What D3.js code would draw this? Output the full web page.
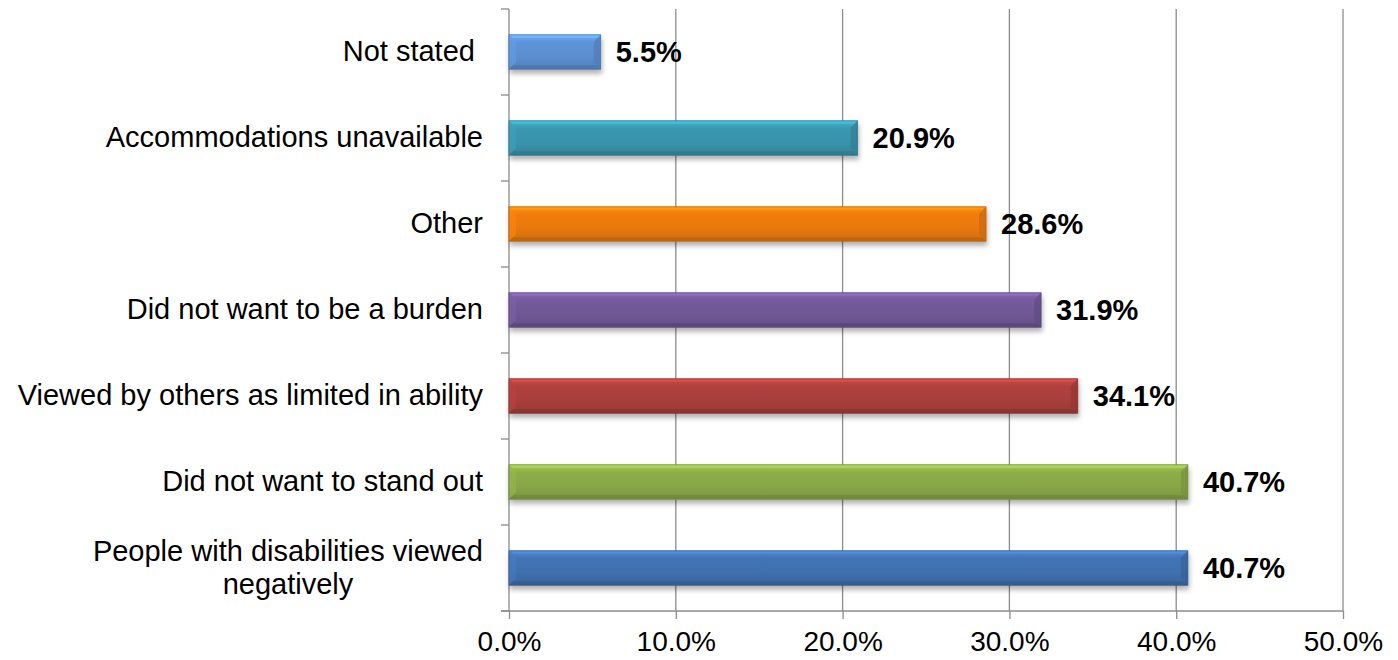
<!DOCTYPE html>
<html>
<head>
<meta charset="utf-8">
<script src="https://cdn.jsdelivr.net/npm/d3@7"></script>
<style>
  html, body { margin: 0; padding: 0; background: #fff; }
  svg { display: block; font-family: Arial, "Liberation Sans", sans-serif; }
</style>
</head>
<body>
<svg id="chart" width="1398" height="660"></svg>
<script>
// Reasons for not requesting accommodations (share of respondents)
const categories = [
  "Not stated",
  "Accommodations unavailable",
  "Other",
  "Did not want to be a burden",
  "Viewed by others as limited in ability",
  "Did not want to stand out",
  "People with disabilities viewed negatively"
];
const values = [5.5, 20.9, 28.6, 31.9, 34.1, 40.7, 40.7];
const valueLabels = ["5.5%", "20.9%", "28.6%", "31.9%", "34.1%", "40.7%", "40.7%"];
const barColors = ["#5A8ED0", "#3892AA", "#E8780E", "#6E5795", "#A83E3B", "#87A646", "#3F6FAD"];
const tickValues = [0, 10, 20, 30, 40, 50];
const tickLabels = ["0.0%", "10.0%", "20.0%", "30.0%", "40.0%", "50.0%"];
// Category labels broken over two lines
const labelLines = {
  "Not stated": ["Not stated\u00a0"],
  "People with disabilities viewed negatively": ["People with disabilities viewed", "negatively"]
};

const svg = d3.select("#chart");
const margin = { left: 509, right: 55, top: 9, bottom: 49 };
const W = 1398, H = 660;
const x0 = margin.left, x1 = W - margin.right;
const y0 = margin.top, y1 = H - margin.bottom;

const x = d3.scaleLinear().domain([0, 50]).range([x0, x1]);
const y = d3.scaleBand().domain(categories).range([y0, y1]).paddingInner(0.6).paddingOuter(0.3);

const defs = svg.append("defs");
const shadow = defs.append("filter").attr("id", "shadow")
  .attr("x", "-5%").attr("y", "-30%").attr("width", "115%").attr("height", "190%");
shadow.append("feDropShadow").attr("dx", 1).attr("dy", 4).attr("stdDeviation", 2.5)
  .attr("flood-color", "#000").attr("flood-opacity", 0.3);

barColors.forEach((c, i) => {
  const g = defs.append("linearGradient").attr("id", "grad" + i)
    .attr("x1", 0).attr("y1", 0).attr("x2", 0).attr("y2", 1);
  const base = d3.color(c);
  g.append("stop").attr("offset", "0%").attr("stop-color", base.brighter(0.55));
  g.append("stop").attr("offset", "22%").attr("stop-color", base.brighter(0.12));
  g.append("stop").attr("offset", "65%").attr("stop-color", base);
  g.append("stop").attr("offset", "100%").attr("stop-color", base.darker(0.3));
});

// Vertical gridlines
svg.append("g").selectAll("line").data(tickValues.slice(1)).join("line")
  .attr("x1", d => x(d)).attr("x2", d => x(d))
  .attr("y1", y0).attr("y2", y1)
  .attr("stroke", "#8c8c8c").attr("stroke-width", 1.3);

// Category axis (left)
const yTicks = d3.range(categories.length + 1).map(i => y0 + i * (y1 - y0) / categories.length);
svg.append("line").attr("x1", x0).attr("x2", x0).attr("y1", y0).attr("y2", y1)
  .attr("stroke", "#8c8c8c").attr("stroke-width", 1.3);
svg.append("g").selectAll("line").data(yTicks).join("line")
  .attr("x1", x0 - 8).attr("x2", x0).attr("y1", d => d).attr("y2", d => d)
  .attr("stroke", "#8c8c8c").attr("stroke-width", 1.3);

// Value axis (bottom)
const xAxis = d3.axisBottom(x).tickValues(tickValues).tickFormat((d, i) => tickLabels[i])
  .tickSize(8).tickSizeOuter(0);
const gx = svg.append("g").attr("transform", `translate(0,${y1})`).call(xAxis);
gx.select(".domain").attr("stroke", "#8c8c8c").attr("stroke-width", 1.3)
  .attr("d", `M${x0 - 8},0H${x1}`);
gx.selectAll(".tick line").attr("stroke", "#8c8c8c").attr("stroke-width", 1.3);
gx.selectAll(".tick text").attr("font-size", 28).attr("font-family", "Arial, 'Liberation Sans', sans-serif")
  .attr("fill", "#000").attr("y", 11).attr("dy", "1.04em");

// Bars with bevelled edges
const bars = svg.append("g").selectAll("g").data(categories).join("g")
  .attr("filter", "url(#shadow)");
bars.each(function (c, i) {
  const g = d3.select(this);
  const bx = x(0), by = y(c), bw = x(values[i]) - x(0), bh = y.bandwidth();
  const b = 7;
  const base = d3.color(barColors[i]);
  g.append("rect").attr("x", bx).attr("y", by).attr("width", bw).attr("height", bh)
    .attr("fill", `url(#grad${i})`);
  // top bevel
  g.append("path").attr("d", `M${bx},${by}L${bx + bw},${by}L${bx + bw - 3},${by + 3}L${bx + 3},${by + 3}Z`)
    .attr("fill", base.brighter(0.8)).attr("opacity", 0.7);
  // left bevel
  g.append("path").attr("d", `M${bx},${by}L${bx + b},${by + b}L${bx + b},${by + bh - b}L${bx},${by + bh}Z`)
    .attr("fill", base.brighter(0.3)).attr("opacity", 0.6);
  // right bevel
  g.append("path").attr("d", `M${bx + bw},${by}L${bx + bw},${by + bh}L${bx + bw - b},${by + bh - b}L${bx + bw - b},${by + b}Z`)
    .attr("fill", base.darker(0.35)).attr("opacity", 0.75);
  // bottom bevel
  g.append("path").attr("d", `M${bx},${by + bh}L${bx + 4},${by + bh - 4}L${bx + bw - 4},${by + bh - 4}L${bx + bw},${by + bh}Z`)
    .attr("fill", base.darker(0.6)).attr("opacity", 0.7);
  g.append("rect").attr("x", bx).attr("y", by).attr("width", bw).attr("height", bh)
    .attr("fill", "none").attr("stroke", base.darker(0.5)).attr("stroke-width", 0.8);
});

// Value labels
svg.append("g").selectAll("text").data(categories).join("text")
  .attr("x", (c, i) => x(values[i]) + 15)
  .attr("y", c => y(c) + y.bandwidth() / 2)
  .attr("dy", "0.36em")
  .attr("font-size", 29).attr("font-weight", "bold").attr("fill", "#000")
  .text((c, i) => valueLabels[i]);

// Category labels; multi-line labels are centred on their widest line
const labelRight = x0 - 26;
const lg = svg.append("g").attr("font-size", 29).attr("fill", "#000");
categories.forEach(c => {
  const lines = labelLines[c] || [c];
  const cy = y(c) + y.bandwidth() / 2;
  const lh = 33;
  if (lines.length === 1) {
    lg.append("text").attr("x", labelRight).attr("y", cy).attr("dy", "0.32em")
      .attr("text-anchor", "end").style("white-space", "pre").text(lines[0]);
  } else {
    const t = lg.append("text").attr("text-anchor", "middle");
    lines.forEach((l, k) => {
      t.append("tspan").attr("x", 0)
        .attr("y", cy + (k - (lines.length - 1) / 2) * lh).attr("dy", "0.32em").text(l);
    });
    const w = t.node().getBBox().width;
    t.selectAll("tspan").attr("x", labelRight - w / 2);
  }
});
</script>
</body>
</html>
